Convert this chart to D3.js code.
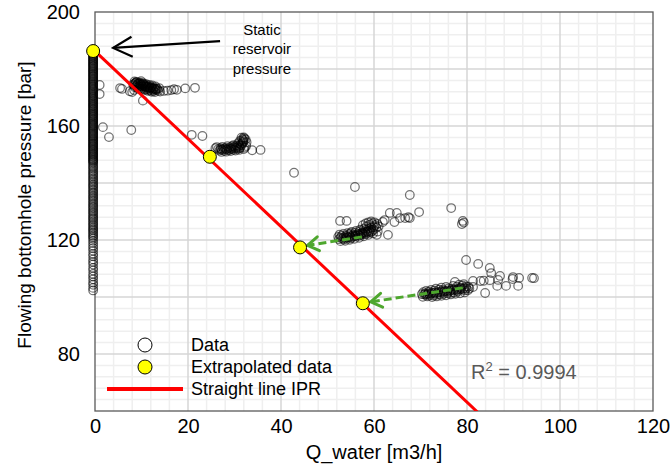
<!DOCTYPE html>
<html><head><meta charset="utf-8">
<script src="https://cdn.jsdelivr.net/npm/d3@7"></script>
<style>body{margin:0;background:#fff}svg{display:block;font-family:"Liberation Sans",Arial,sans-serif}</style>
</head><body><svg id="chart" width="670" height="468"></svg>
<script>
// ---------- DATA ----------
const xTickLabels = [0, 20, 40, 60, 80, 100, 120];
const yTickLabels = [80, 120, 160, 200];
const xTitle = "Q_water [m3/h]";
const yTitle = "Flowing bottomhole pressure [bar]";

// Measured data – column of shut-in points (Q ≈ 0)
const columnQ = -0.4;
const columnP = [186.3,186.0,185.6,185.3,185.0,184.7,184.4,184.1,183.7,183.4,183.1,182.8,182.5,182.1,181.8,181.5,181.2,180.9,180.6,180.2,179.9,179.6,179.3,179.0,178.6,178.3,178.0,177.7,177.4,177.1,176.7,176.4,176.1,175.8,175.5,175.1,174.8,174.5,174.2,173.9,173.6,173.2,172.9,172.6,172.3,172.0,171.6,171.3,171.0,170.7,170.4,170.1,169.7,169.4,169.1,168.8,168.5,168.1,167.8,167.5,167.2,166.9,166.6,166.2,165.9,165.6,165.3,165.0,164.6,164.3,164.0,163.7,163.4,163.1,162.7,162.4,162.1,161.8,161.5,161.1,160.8,160.5,160.2,159.9,159.6,159.2,158.9,158.6,158.3,158.0,157.6,157.3,157.0,156.7,156.4,156.1,155.7,155.4,155.1,154.8,154.5,154.1,153.8,153.5,153.2,152.9,152.6,152.2,151.9,151.6,151.3,151.0,150.6,150.3,150.0,149.7,149.4,149.1,148.7,148.4,148.1,147.8,147.5,147.1,
146.6,146.0,145.5,145.0,144.4,143.9,143.3,142.8,142.3,141.7,141.2,140.6,140.1,139.5,139.0,138.5,137.9,137.4,136.8,136.3,135.7,135.2,134.7,134.1,133.6,133.0,132.5,131.9,131.4,130.9,130.3,129.8,129.2,128.7,128.1,127.6,127.1,126.5,126.0,125.4,124.9,124.3,123.8,123.3,122.7,122.2,121.6,121.1,120.5,
119.7,118.9,118.0,117.1,116.2,115.1,114.3,113.2,112.3,111.4,110.2,109.3,108.1,107.2,106.2,105.1,104.3,103.2,102.3];

// Measured data – flowing clusters [Q, P]
const clusterLowRate = [[1.0,174.4],[1.0,171.2],[1.7,159.6],[3.0,156.1],[5.4,173.3],[5.8,173.0],[7.8,158.6],
 [8.2,174.6],[8.6,174.9],[9.0,174.4],[9.3,174.8],[9.6,174.1],[9.9,174.5],[10.2,173.9],[10.5,174.2],[10.8,173.6],[11.0,173.9],[11.3,173.3],[11.6,173.6],[11.9,173.1],[12.2,173.4],[12.5,172.8],[12.8,173.1],[13.1,172.6],[13.4,172.9],[9.1,173.5],[10.0,173.2],[11.1,172.8],[12.0,172.4],[8.8,175.3],[9.5,175.0],
 [8.4,174.2],[8.7,175.1],[9.2,174.9],[9.4,173.9],[9.8,174.7],[10.1,174.0],[10.4,174.6],[10.7,173.9],[10.9,174.3],[11.2,173.7],[11.5,174.0],[11.8,173.4],[12.1,173.7],[12.4,173.1],[12.7,173.4],[13.0,172.9],[13.3,173.2],[9.6,173.3],[10.6,173.0],[11.6,172.7],[12.6,172.3],[8.9,174.0],[10.3,174.8],
 [8.5,175.6],[9.0,175.5],[9.7,175.2],[10.4,175.0],[11.0,174.7],[11.7,174.4],[12.3,174.2],[13.0,173.9],[8.6,173.6],[9.3,173.1],[10.0,172.8],[10.7,172.6],[11.4,172.3],[12.2,172.0],[12.9,171.9],[13.6,172.4],[13.8,173.3],[9.9,175.7],
 [7.5,172.2],[8.0,171.9],[8.4,172.6],[10.3,168.9],[14.0,172.1],[14.8,172.3],[15.6,172.4],[16.4,172.6],[17.0,172.9],[17.6,172.7],[19.4,173.2],[21.5,173.4]];
const clusterRate25 = [[26.8,151.4],[27.3,151.6],[27.8,151.3],[28.3,151.7],[28.8,151.5],[29.3,151.9],[29.8,151.7],[30.3,152.1],[30.8,152.0],[31.2,152.5],[31.5,153.2],[31.7,153.9],[31.9,154.6],[31.7,155.4],[32.0,156.0],[27.0,152.2],[28.0,152.3],[29.0,152.5],[30.0,152.8],[31.0,153.0],[32.2,152.4],
 [26.5,151.9],[27.1,151.8],[27.6,152.0],[28.1,151.9],[28.6,152.1],[29.1,152.0],[29.6,152.3],[30.1,152.4],[30.6,152.6],[31.1,152.2],[31.4,153.6],[31.8,154.2],[31.9,155.0],[32.1,155.6],[31.5,155.9],[30.5,153.2],[29.5,152.9],
 [27.2,150.9],[28.2,151.0],[29.2,151.2],[30.2,151.4],[31.0,151.6],[32.0,151.9],[32.5,153.0],[32.6,154.3],[32.4,155.3],[31.2,154.8],[30.8,154.0],[26.2,152.6],[27.4,152.7],[28.5,152.9],[29.8,153.3],
 [25.9,152.2],[33.8,151.5],[35.6,151.6],[20.8,156.9],[23.1,156.5],[42.8,143.6]];
const clusterRate55 = [[52.5,120.3],[53.2,120.5],[53.9,120.6],[54.5,120.9],[55.1,121.0],[55.7,121.2],[56.2,121.4],[56.8,121.5],[57.3,121.8],[57.8,122.0],[58.3,122.2],[58.8,122.5],[59.3,122.7],[54.0,121.5],[55.5,121.8],[56.5,122.1],[57.5,122.6],[58.5,123.0],[57.9,124.0],[58.4,124.8],[59.0,125.3],[59.6,125.8],[60.2,125.2],[60.5,124.3],[59.9,123.6],[55.0,122.4],[53.0,121.4],
 [52.8,120.8],[53.5,120.9],[54.2,121.1],[54.8,121.3],[55.4,121.5],[56.0,121.7],[56.6,121.9],[57.1,122.2],[57.6,122.4],[58.1,122.7],[58.6,122.9],[59.1,123.2],[59.6,123.1],[60.0,124.6],[59.4,124.4],[58.9,124.0],[58.2,123.5],[57.0,123.1],[56.0,122.6],[54.6,122.0],[53.6,120.2],[55.0,120.6],
 [52.6,121.9],[53.4,122.1],[54.3,122.4],[55.2,122.8],[56.1,123.2],[57.0,123.6],[57.6,125.2],[58.2,125.8],[58.8,126.2],[59.4,126.5],[60.1,126.2],[60.7,125.6],[61.0,124.8],[60.8,123.0],[59.8,122.3],[58.8,121.8],[57.8,121.3],[56.8,120.8],[55.8,120.4],[54.8,120.1],[53.8,119.7],[52.8,119.6],
 [52.3,121.1],[52.7,126.7],[54.1,126.7],[60.6,121.8],[63.0,121.8],[61.9,126.3],[62.3,127.0],[63.4,129.5],[64.9,129.5],[64.4,126.3],[65.6,127.7],[66.7,127.7],[67.4,128.0],[55.9,138.6],[67.7,135.8],[69.7,129.8],[67.7,127.7],[76.6,131.2],[79.1,126.7],[78.9,125.6],[79.3,126.1]];
const clusterRate75 = [[70.3,101.0],[71.0,101.2],[71.7,101.3],[72.4,101.5],[73.1,101.6],[73.8,101.8],[74.5,102.0],[75.2,102.1],[75.9,102.3],[76.6,102.5],[77.3,102.7],[78.0,102.8],[78.7,103.0],[79.4,103.2],[72.0,100.6],[73.5,100.8],[75.0,101.1],[76.5,101.5],[78.0,101.9],[79.5,102.3],[74.0,102.6],[76.0,103.0],[77.8,103.6],[79.0,104.0],[71.2,100.7],
 [70.8,100.9],[71.5,101.0],[72.2,101.1],[72.9,101.3],[73.6,101.4],[74.3,101.6],[75.0,101.8],[75.7,101.9],[76.4,102.1],[77.1,102.3],[77.8,102.4],[78.5,102.6],[79.2,102.8],[79.8,103.0],[73.0,102.2],[74.8,102.5],[76.8,102.9],[78.5,103.3],[79.8,103.7],[71.8,101.9],[72.8,100.5],[74.2,100.9],[75.8,101.3],[77.2,101.6],
 [70.5,100.1],[71.5,100.2],[72.5,100.0],[73.5,100.2],[74.5,100.4],[75.5,100.6],[76.5,100.9],[77.5,101.1],[78.5,101.3],[79.5,101.6],[80.2,102.4],[80.3,103.6],[79.3,104.5],[78.3,104.3],[77.0,103.9],[75.5,103.5],[74.5,103.3],[73.3,102.9],[72.3,102.5],[71.2,102.1],[70.6,101.7],
 [77.4,105.3],[79.8,113.0],[82.4,111.6],[84.9,110.2],[85.2,108.4],[87.1,107.4],[86.7,106.0],[86.5,103.9],[88.4,103.9],[89.9,107.0],[89.8,106.3],[91.2,106.7],[91.0,103.9],[94.0,106.7],[94.4,106.6],[83.9,101.4],[81.3,105.6],[82.9,105.6],[83.6,105.7],[84.9,105.9],[81.3,103.5],[80.5,103.0]];

// Extrapolated points [Q, P]
const extrapolated = [[-0.4,186.3],[24.7,149.2],[44.1,117.4],[57.6,97.8]];

// Straight-line IPR  P = intercept + slope * Q
const iprIntercept = 186.3;
const iprSlope = -1.54;
const iprQRange = [-0.4, 82.2];

// Extrapolation arrows [[fromQ, fromP], [toQ, toP]]
const extrapArrows = [[[57.4,121.1],[45.7,118.1]], [[79.1,103.2],[59.3,98.3]]];

// Annotation
const annotationLines = ["Static", "reservoir", "pressure"];
const annotationArrow = [[26.9,189.8],[3.9,187.4]];
const annotationAnchor = [35.9, 192.0];
const r2Text = "0.9994";
const legendLabels = ["Data", "Extrapolated data", "Straight line IPR"];

// ---------- DRAW ----------
const svg = d3.select("#chart");
const W = 670, H = 468;
const m = {left: 95, right: 17, top: 12, bottom: 57};
const x = d3.scaleLinear().domain([0, 120]).range([m.left, W - m.right]);
const y = d3.scaleLinear().domain([60, 200]).range([H - m.bottom, m.top]);

const grid = svg.append("g");
const minorX = d3.range(0, 121, 4).filter(v => v % 20 !== 0);
const minorY = d3.range(60, 201, 4).filter(v => v % 20 !== 0);
grid.selectAll(".mx").data(minorX).join("line")
  .attr("x1", d => x(d)).attr("x2", d => x(d)).attr("y1", y(60)).attr("y2", y(200))
  .attr("stroke", "#efefef").attr("stroke-width", 1.5);
grid.selectAll(".my").data(minorY).join("line")
  .attr("y1", d => y(d)).attr("y2", d => y(d)).attr("x1", x(0)).attr("x2", x(120))
  .attr("stroke", "#efefef").attr("stroke-width", 1.5);
grid.selectAll(".Mx").data(d3.range(20, 120, 20)).join("line")
  .attr("x1", d => x(d)).attr("x2", d => x(d)).attr("y1", y(60)).attr("y2", y(200))
  .attr("stroke", "#d6d6d6").attr("stroke-width", 1.5);
grid.selectAll(".My").data(d3.range(80, 200, 20)).join("line")
  .attr("y1", d => y(d)).attr("y2", d => y(d)).attr("x1", x(0)).attr("x2", x(120))
  .attr("stroke", "#d6d6d6").attr("stroke-width", 1.5);

svg.append("rect").attr("x", x(0)).attr("y", y(200))
  .attr("width", x(120) - x(0)).attr("height", y(60) - y(200))
  .attr("fill", "none").attr("stroke", "#595959").attr("stroke-width", 1.3);

// axes
const xAxis = svg.append("g").attr("transform", `translate(0,${y(60)})`)
  .call(d3.axisBottom(x).tickValues(xTickLabels).tickSize(0).tickPadding(8));
const yAxis = svg.append("g").attr("transform", `translate(${x(0)},0)`)
  .call(d3.axisLeft(y).tickValues(yTickLabels).tickSize(0).tickPadding(15));
[xAxis, yAxis].forEach(a => {
  a.select(".domain").remove();
  a.selectAll("text").attr("font-size", 20).attr("fill", "#000")
    .attr("font-family", '"Liberation Sans",Arial,sans-serif');
});

svg.append("text").attr("x", (x(0) + x(120)) / 2).attr("y", 459)
  .attr("text-anchor", "middle").attr("font-size", 20).text(xTitle);
svg.append("text").attr("transform", `translate(31,205) rotate(-90)`)
  .attr("text-anchor", "middle").attr("font-size", 19).text(yTitle);

// data circles
const allData = columnP.map(p => [columnQ, p])
  .concat(clusterLowRate, clusterRate25, clusterRate55, clusterRate75);
svg.append("g").selectAll("circle").data(allData).join("circle")
  .attr("cx", d => x(d[0])).attr("cy", d => y(d[1])).attr("r", 4.3)
  .attr("fill", "none").attr("stroke", "#000").attr("stroke-opacity", 0.55).attr("stroke-width", 1.25);

// IPR line (clipped to plot)
svg.append("clipPath").attr("id", "clip").append("rect")
  .attr("x", 0).attr("y", y(200)).attr("width", W).attr("height", y(60) - y(200));
const iprPts = iprQRange.map(q => [q, iprIntercept + iprSlope * q]);
svg.append("path").attr("clip-path", "url(#clip)")
  .attr("d", d3.line().x(d => x(d[0])).y(d => y(d[1]))(iprPts))
  .attr("stroke", "#ff0000").attr("stroke-width", 3).attr("fill", "none");

// markers
const defs = svg.append("defs");
defs.append("marker").attr("id", "headG").attr("markerUnits", "userSpaceOnUse")
  .attr("viewBox", "-14 -9 18 18").attr("markerWidth", 18).attr("markerHeight", 18)
  .attr("refX", 0).attr("refY", 0).attr("orient", "auto")
  .append("path").attr("d", "M-11,-7 L0,0 L-11,7").attr("fill", "none")
  .attr("stroke", "#4ea72e").attr("stroke-width", 3).attr("stroke-linecap", "round");
defs.append("marker").attr("id", "headK").attr("markerUnits", "userSpaceOnUse")
  .attr("viewBox", "-24 -13 28 26").attr("markerWidth", 28).attr("markerHeight", 26)
  .attr("refX", 0).attr("refY", 0).attr("orient", "auto")
  .append("path").attr("d", "M-19,-10 L0,0 L-19,10").attr("fill", "none")
  .attr("stroke", "#000").attr("stroke-width", 2.2);

const ln = d3.line().x(d => x(d[0])).y(d => y(d[1]));
svg.append("g").selectAll("path").data(extrapArrows).join("path")
  .attr("d", d => ln(d)).attr("fill", "none").attr("stroke", "#4ea72e")
  .attr("stroke-width", 3).attr("stroke-dasharray", "8,4").attr("marker-end", "url(#headG)");

// extrapolated points
svg.append("g").selectAll("circle").data(extrapolated).join("circle")
  .attr("cx", d => x(d[0])).attr("cy", d => y(d[1])).attr("r", 6.5)
  .attr("fill", "#ffff00").attr("stroke", "#000").attr("stroke-width", 1);

// annotation
svg.append("path").attr("d", ln(annotationArrow)).attr("fill", "none")
  .attr("stroke", "#000").attr("stroke-width", 2.2).attr("marker-end", "url(#headK)");
svg.append("text").attr("x", x(annotationAnchor[0])).attr("y", y(annotationAnchor[1]))
  .attr("text-anchor", "middle").attr("font-size", 15)
  .selectAll("tspan").data(annotationLines).join("tspan")
  .attr("x", x(annotationAnchor[0])).attr("dy", (d, i) => i === 0 ? 0 : 19.5).text(d => d);

// R²
const r2 = svg.append("text").attr("x", 471).attr("y", 379).attr("font-size", 20).attr("fill", "#595959");
r2.append("tspan").text("R");
r2.append("tspan").attr("font-size", 13).attr("dy", -8).text("2");
r2.append("tspan").attr("dy", 8).text(" = " + r2Text);

// legend
const lg = svg.append("g");
lg.append("circle").attr("cx", 145).attr("cy", 345).attr("r", 7).attr("fill", "#fff").attr("stroke", "#000");
lg.append("circle").attr("cx", 145).attr("cy", 367).attr("r", 7).attr("fill", "#ffff00").attr("stroke", "#000");
lg.append("line").attr("x1", 107).attr("x2", 183).attr("y1", 389).attr("y2", 389).attr("stroke", "#ff0000").attr("stroke-width", 4);
lg.selectAll("text").data(legendLabels).join("text")
  .attr("x", 191).attr("y", (d, i) => 345 + 22 * i).attr("dy", "0.35em")
  .attr("font-size", 18).text(d => d);
</script></body></html>
